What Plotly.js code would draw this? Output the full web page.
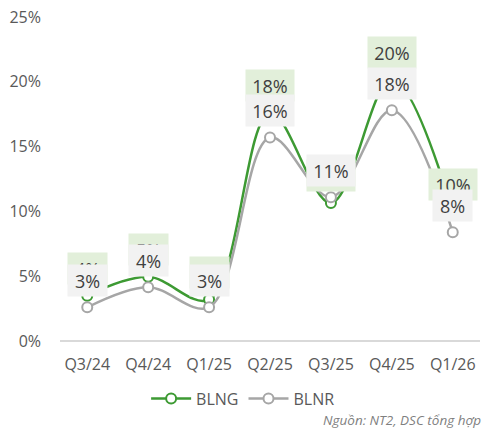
<!DOCTYPE html>
<html>
<head>
<meta charset="utf-8">
<script src="https://cdn.plot.ly/plotly-3.0.1.min.js"></script>
<style>html,body{margin:0;padding:0;background:#fff}#chart{width:490px;height:431px}</style>
</head>
<body>
<div id="chart"></div>
<script>
const categories = ["Q3/24","Q4/24","Q1/25","Q2/25","Q3/25","Q4/25","Q1/26"];
const blng = [3.5, 4.95, 3.2, 17.6, 10.65, 20.2, 10.0];
const blnr = [2.6, 4.15, 2.6, 15.7, 11.1, 17.8, 8.4];
const tickVals = [0, 5, 10, 15, 20, 25];
const tickText = ["0%","5%","10%","15%","20%","25%"];
const sourceText = "Nguồn: NT2, DSC tổng hợp";

const green = "#3d9a33";
const grey = "#a6a6a6";
const font = "Open Sans, Segoe UI, sans-serif";

function series(name, y, color) {
  return {
    type: "scatter", mode: "lines+markers", name: name,
    x: categories, y: y,
    line: {color: color, width: 2.5, shape: "spline", smoothing: 1},
    marker: {symbol: "circle", size: 10, color: "#ffffff", line: {color: color, width: 2}},
    hoverinfo: "skip"
  };
}

function labels(y, bg) {
  return categories.map((c, i) => {
    const t = Math.round(y[i]) + "%";
    return {
      x: c, y: y[i], xref: "x", yref: "y",
      text: t,
      showarrow: false, yshift: 27, yanchor: "middle", xanchor: "center",
      bgcolor: bg, borderpad: 5, width: 11 + 9 * t.length, height: 21,
      font: {family: font, size: 18, color: "#404040"}
    };
  });
}

const annotations = [].concat(
  labels(blng, "#e2efda"),
  labels(blnr, "#f2f2f2"),
  [{
    text: "<i>" + sourceText + "</i>", xref: "paper", yref: "paper",
    x: 1.008, y: -0.243, xanchor: "right", yanchor: "middle", showarrow: false,
    font: {family: font, size: 13.5, color: "#7f7f7f", style: "italic"}
  }]
);

const layout = {
  width: 490, height: 431,
  margin: {l: 60, r: 10, t: 17, b: 90},
  paper_bgcolor: "#ffffff", plot_bgcolor: "#ffffff",
  font: {family: font, color: "#595959", size: 16},
  showlegend: true,
  legend: {
    orientation: "h", x: 0.436, xanchor: "center", y: -0.178, yanchor: "middle",
    font: {family: font, size: 16, color: "#595959"}, itemwidth: 40
  },
  xaxis: {
    type: "category", showgrid: false, zeroline: false, showline: false,
    ticks: "", ticklabelstandoff: 12,
    tickfont: {family: font, size: 16, color: "#595959"}
  },
  yaxis: {
    range: [0, 25], tickvals: tickVals, ticktext: tickText,
    showgrid: false, zeroline: true, zerolinecolor: "#d9d9d9", zerolinewidth: 1.5,
    showline: false, ticks: "", ticklabelstandoff: 18,
    tickfont: {family: font, size: 16, color: "#595959"}
  },
  annotations: annotations
};

Plotly.newPlot("chart", [series("BLNG", blng, green), series("BLNR", blnr, grey)], layout, {displayModeBar: false, staticPlot: true});
</script>
</body>
</html>
